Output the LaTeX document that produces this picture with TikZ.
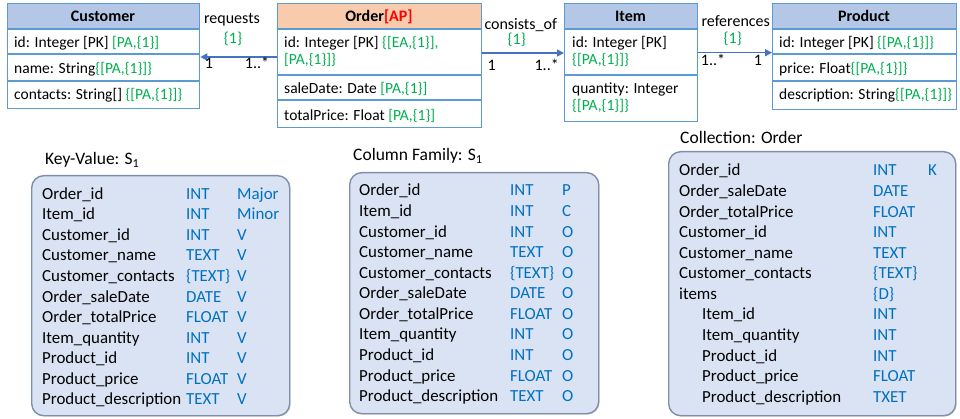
\documentclass[tikz,border=0pt]{standalone}
\usepackage{fontspec}
\setmainfont{Carlito}
\usetikzlibrary{arrows.meta,shadows}

\definecolor{clsline}{HTML}{5B9BD5}
\definecolor{hdrblue}{HTML}{B4C7E7}
\definecolor{hdrorange}{HTML}{F8CBAD}
\definecolor{anngreen}{HTML}{00B050}
\definecolor{annred}{HTML}{FF0000}
\definecolor{assoc}{HTML}{4472C4}
\definecolor{typeblue}{HTML}{0070C0}
\definecolor{panelfill}{HTML}{DAE3F3}
\definecolor{panelline}{HTML}{7F8FA9}

\tikzset{
  clsbox/.style={draw=clsline, line width=1.3pt, anchor=north west, inner sep=0pt},
  hdrbox/.style={fill=#1, anchor=north west, inner sep=0pt, minimum height=26pt},
  sep/.style={draw=clsline, line width=1.3pt},
  ctext/.style={anchor=base west, inner sep=0pt, font=\fontsize{15.5}{18}\selectfont},
  htext/.style={anchor=base, inner sep=0pt, font=\fontsize{16}{19}\selectfont\bfseries},
  lbl/.style={anchor=base, inner sep=0pt, font=\fontsize{16}{19}\selectfont},
  assocline/.style={draw=assoc, line width=1.5pt, -{Triangle[length=7pt,width=7pt]}},
  panel/.style={draw=panelline, line width=1.4pt, fill=panelfill, rounded corners=12pt,
    anchor=north west, inner sep=0pt,
    drop shadow={opacity=0.25, shadow xshift=1pt, shadow yshift=-1pt}},
  ttext/.style={anchor=base west, inner sep=0pt, font=\fontsize{16.9}{20}\selectfont},
  ptitle/.style={anchor=base west, inner sep=0pt, font=\fontsize{17.5}{21}\selectfont},
}
\newcommand{\ann}[1]{\textcolor{anngreen}{#1}}

\begin{document}
\begin{tikzpicture}[x=1pt,y=-1pt]
\useasboundingbox (0,0) rectangle (960,419);

% ---------- Customer ----------
\node[hdrbox=hdrblue, minimum width=192pt] (custh) at (7,3) {};
\node[clsbox, minimum width=192pt, minimum height=105pt] (cust) at (7,3) {};
\draw[sep] (cust.west |- 0,29) -- (cust.east |- 0,29);
\draw[sep] (cust.west |- 0,54) -- (cust.east |- 0,54);
\draw[sep] (cust.west |- 0,81) -- (cust.east |- 0,81);
\node[htext] (custn) at (103,21.7) {Customer};
\node[ctext] (cust1) at (14,47.7) {id: Integer [PK] \ann{[PA,\{1\}]}};
\node[ctext] (cust2) at (14,74) {name: String\ann{\{[PA,\{1\}]\}}};
\node[ctext] (cust3) at (14,100) {contacts: String[] \ann{\{[PA,\{1\}]\}}};

% ---------- Order ----------
\node[hdrbox=hdrorange, minimum width=204pt] (ordh) at (277,3) {};
\node[clsbox, minimum width=204pt, minimum height=124pt] (ord) at (277,3) {};
\draw[sep] (ord.west |- 0,29) -- (ord.east |- 0,29);
\draw[sep] (ord.west |- 0,75) -- (ord.east |- 0,75);
\draw[sep] (ord.west |- 0,100) -- (ord.east |- 0,100);
\node[htext] (ordn) at (379,21.7) {Order\textcolor{annred}{[AP]}};
\node[ctext] (ord1) at (284,47.7) {id: Integer [PK] \ann{\{[EA,\{1\}],}};
\node[ctext] (ord1b) at (284,65) {\ann{[PA,\{1\}]\}}};
\node[ctext] (ord2) at (284,94) {saleDate: Date \ann{[PA,\{1\}]}};
\node[ctext] (ord3) at (284,120.7) {totalPrice: Float \ann{[PA,\{1\}]}};

% ---------- Item ----------
\node[hdrbox=hdrblue, minimum width=133pt] (itmh) at (564,3) {};
\node[clsbox, minimum width=133pt, minimum height=118pt] (itm) at (564,3) {};
\draw[sep] (itm.west |- 0,29) -- (itm.east |- 0,29);
\draw[sep] (itm.west |- 0,75) -- (itm.east |- 0,75);
\node[htext] (itmn) at (630.5,21.7) {Item};
\node[ctext] (itm1) at (572,47.7) {id: Integer [PK]};
\node[ctext] (itm1b) at (572,65) {\ann{\{[PA,\{1\}]\}}};
\node[ctext] (itm2) at (572,93.3) {quantity: Integer};
\node[ctext] (itm2b) at (572,111) {\ann{\{[PA,\{1\}]\}}};

% ---------- Product ----------
\node[hdrbox=hdrblue, minimum width=184pt] (prdh) at (772,3) {};
\node[clsbox, minimum width=184pt, minimum height=106pt] (prd) at (772,3) {};
\draw[sep] (prd.west |- 0,29) -- (prd.east |- 0,29);
\draw[sep] (prd.west |- 0,54) -- (prd.east |- 0,54);
\draw[sep] (prd.west |- 0,81) -- (prd.east |- 0,81);
\node[htext] (prdn) at (864,21.7) {Product};
\node[ctext] (prd1) at (779,47.7) {id: Integer [PK] \ann{\{[PA,\{1\}]\}}};
\node[ctext] (prd2) at (779,74) {price: Float\ann{\{[PA,\{1\}]\}}};
\node[ctext] (prd3) at (779,100) {description: String\ann{\{[PA,\{1\}]\}}};

% ---------- Associations ----------
\draw[assocline] (ord.west |- 0,57) -- (cust.east |- 0,57);
\node[lbl] (reqn) at (232,23.3) {requests};
\node[lbl] (reqm) at (233,44) {\ann{\{1\}}};
\node[lbl] (reqa) at (209,69) {1};
\node[lbl] (reqb) at (257,69) {1..*};

\draw[assocline] (ord.east |- 0,53) -- (itm.west |- 0,53);
\node[lbl] (conn) at (520.7,29.3) {consists\_of};
\node[lbl] (conm) at (516.7,45) {\ann{\{1\}}};
\node[lbl] (cona) at (491.7,71) {1};
\node[lbl] (conb) at (546.7,71) {1..*};

\draw[assocline] (itm.east |- 0,52.7) -- (prd.west |- 0,52.7);
\node[lbl] (refn) at (735.7,26.7) {references};
\node[lbl] (refm) at (732.7,43.3) {\ann{\{1\}}};
\node[lbl] (refa) at (713,65.7) {1..*};
\node[lbl] (refb) at (758,65.7) {1};

% ---------- Key-Value ----------
\node[ptitle] (kvt) at (45,165) {Key-Value: S\textsubscript{1}};
\node[panel, minimum width=258pt, minimum height=240pt] (kv) at (31,175) {};
\foreach \n/\t/\k [count=\i from 0] in {
  Order\_id/INT/Major, Item\_id/INT/Minor, Customer\_id/INT/V,
  Customer\_name/TEXT/V, Customer\_contacts/\{TEXT\}/V, Order\_saleDate/DATE/V,
  Order\_totalPrice/FLOAT/V, Item\_quantity/INT/V, Product\_id/INT/V,
  Product\_price/FLOAT/V, Product\_description/TEXT/V} {
  \node[ttext] (kvn\i) at (42,199.3+20.55*\i) {\n};
  \node[ttext, text=typeblue] (kvy\i) at (186,199.3+20.55*\i) {\t};
  \node[ttext, text=typeblue] (kvk\i) at (237,199.3+20.55*\i) {\k};
}

% ---------- Column Family ----------
\node[ptitle] (cft) at (353,160.7) {Column Family: S\textsubscript{1}};
\node[panel, minimum width=249pt, minimum height=241pt] (cf) at (349,172) {};
\foreach \n/\t/\k [count=\i from 0] in {
  Order\_id/INT/P, Item\_id/INT/C, Customer\_id/INT/O,
  Customer\_name/TEXT/O, Customer\_contacts/\{TEXT\}/O, Order\_saleDate/DATE/O,
  Order\_totalPrice/FLOAT/O, Item\_quantity/INT/O, Product\_id/INT/O,
  Product\_price/FLOAT/O, Product\_description/TEXT/O} {
  \node[ttext] (cfn\i) at (359,196+20.57*\i) {\n};
  \node[ttext, text=typeblue] (cfy\i) at (510,196+20.57*\i) {\t};
  \node[ttext, text=typeblue] (cfk\i) at (562,196+20.57*\i) {\k};
}

% ---------- Collection ----------
\node[ptitle] (cot) at (680,144) {Collection: Order};
\node[panel, minimum width=287pt, minimum height=264pt] (co) at (668,151) {};
\foreach \x/\n/\t [count=\i from 0] in {
  679/Order\_id/INT, 679/Order\_saleDate/DATE, 679/Order\_totalPrice/FLOAT,
  679/Customer\_id/INT, 679/Customer\_name/TEXT, 679/Customer\_contacts/\{TEXT\},
  679/items/\{D\}, 702/Item\_id/INT, 702/Item\_quantity/INT, 702/Product\_id/INT,
  702/Product\_price/FLOAT, 702/Product\_description/TXET} {
  \node[ttext] (con\i) at (\x,176+20.57*\i) {\n};
  \node[ttext, text=typeblue] (coy\i) at (873,176+20.57*\i) {\t};
}
\node[ttext, text=typeblue] (cok0) at (928,176) {K};

\end{tikzpicture}
\end{document}
